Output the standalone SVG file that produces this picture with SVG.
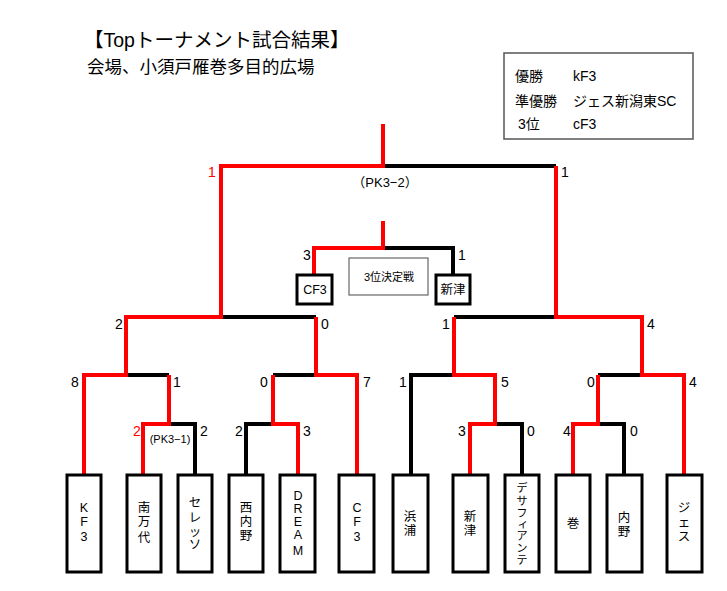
<svg xmlns="http://www.w3.org/2000/svg" width="727" height="591" viewBox="0 0 727 591">
<style>
text{font-family:"Liberation Sans","Noto Sans CJK JP",sans-serif;fill:#000}
.title{font-size:19.5px}
.sub{font-size:17.5px}
.leg{font-size:14px}
.sc{font-size:14px;text-anchor:middle}
.red{fill:#ff0000}
.sm{font-size:11px;text-anchor:middle}
.pk{font-size:13px;text-anchor:middle}
.tm{font-size:12.5px;text-anchor:middle}
.tk{font-size:11px;text-anchor:middle}
.box{fill:#fff;stroke:#000;stroke-width:3}
.lr{fill:none;stroke:#ff0000;stroke-width:4;stroke-linejoin:miter}
.lb{fill:none;stroke:#000;stroke-width:4;stroke-linejoin:miter}
</style>
<rect width="727" height="591" fill="#fff"/>
<g id="header">
<text class="title" x="84" y="47">【Topトーナメント試合結果】</text>
<text class="sub" x="87" y="73">会場、小須戸雁巻多目的広場</text>
</g>
<g id="legend">
<rect x="504" y="53" width="189" height="86" fill="#fff" stroke="#555" stroke-width="1.5"/>
<text class="leg" x="515" y="81">優勝</text>
<text class="leg" x="573" y="81">kF3</text>
<text class="leg" x="515" y="106">準優勝</text>
<text class="leg" x="573" y="106">ジェス新潟東SC</text>
<text class="leg" x="518" y="129">3位</text>
<text class="leg" x="573" y="129">cF3</text>
</g>
<g id="connectors">
<path class="lb" d="M195,475 V424 H169"/>
<path class="lb" d="M246,475 V424 H273"/>
<path class="lb" d="M169,375 H126"/>
<path class="lb" d="M273,375 H316"/>
<path class="lb" d="M316,317 H221"/>
<path class="lb" d="M383,166 H556"/>
<path class="lb" d="M411,475 V375 H454"/>
<path class="lb" d="M522,475 V424 H495"/>
<path class="lb" d="M624,475 V424 H598"/>
<path class="lb" d="M598,375 H642"/>
<path class="lb" d="M454,317 H556"/>
<path class="lb" d="M383,248 H453 V275"/>
<path class="lr" d="M84,475 V375 H126 V317 H221 V166 H383 V124"/>
<path class="lr" d="M143,475 V424 H169 V375"/>
<path class="lr" d="M298,475 V424 H273 V375"/>
<path class="lr" d="M357,475 V375 H316 V317"/>
<path class="lr" d="M470,475 V424 H495 V375 H454 V317"/>
<path class="lr" d="M573,475 V424 H598 V375"/>
<path class="lr" d="M684,475 V375 H642 V317 H556 V166"/>
<path class="lr" d="M314,275 V248 H383 V221"/>
</g>
<g id="scores">
<text class="sc red" x="212" y="177">1</text>
<text class="sc" x="565" y="177">1</text>
<text class="pk" x="385" y="187">（PK3−2）</text>
<text class="sc" x="307" y="260">3</text>
<text class="sc" x="462" y="260">1</text>
<text class="sc" x="119" y="329">2</text>
<text class="sc" x="325" y="329">0</text>
<text class="sc" x="446" y="329">1</text>
<text class="sc" x="651" y="329">4</text>
<text class="sc" x="75" y="387">8</text>
<text class="sc" x="177" y="387">1</text>
<text class="sc" x="264" y="387">0</text>
<text class="sc" x="367" y="387">7</text>
<text class="sc" x="403" y="387">1</text>
<text class="sc" x="505" y="387">5</text>
<text class="sc" x="591" y="387">0</text>
<text class="sc" x="693" y="387">4</text>
<text class="sc red" x="137" y="436">2</text>
<text class="sc" x="204" y="436">2</text>
<text class="sm" x="170" y="443">(PK3−1)</text>
<text class="sc" x="239" y="436">2</text>
<text class="sc" x="307" y="436">3</text>
<text class="sc" x="462" y="436">3</text>
<text class="sc" x="531" y="436">0</text>
<text class="sc" x="567" y="436">4</text>
<text class="sc" x="634" y="436">0</text>
</g>
<g id="third-place">
<rect x="349" y="258" width="79" height="37" fill="#fff" stroke="#666" stroke-width="1.2"/>
<text class="sm" x="389" y="281">3位決定戦</text>
</g>
<g id="node-cf3-third">
<rect class="box" x="297" y="275" width="35" height="29"/>
<text class="tm" x="315" y="294">CF3</text>
</g>
<g id="node-niitsu-third">
<rect class="box" x="436" y="275" width="34" height="29"/>
<text class="tm" x="453" y="294">新津</text>
</g>
<g id="team-kf3">
<rect class="box" x="67" y="475" width="34" height="97"/>
<text class="tm"><tspan x="84" y="512">K</tspan><tspan x="84" y="526">F</tspan><tspan x="84" y="541">3</tspan></text>
</g>
<g id="team-minamibandai">
<rect class="box" x="127" y="475" width="34" height="97"/>
<text class="tm"><tspan x="144" y="512">南</tspan><tspan x="144" y="526">万</tspan><tspan x="144" y="542">代</tspan></text>
</g>
<g id="team-cerezo">
<rect class="box" x="178" y="475" width="34" height="97"/>
<text class="tm"><tspan x="195" y="507">セ</tspan><tspan x="195" y="522">レ</tspan><tspan x="195" y="536">ッ</tspan><tspan x="195" y="549">ソ</tspan></text>
</g>
<g id="team-nishiuchino">
<rect class="box" x="229" y="475" width="34" height="97"/>
<text class="tm"><tspan x="246" y="512">西</tspan><tspan x="246" y="526">内</tspan><tspan x="246" y="540">野</tspan></text>
</g>
<g id="team-dream">
<rect class="box" x="280" y="475" width="35" height="97"/>
<text class="tm"><tspan x="298" y="500">D</tspan><tspan x="298" y="513">R</tspan><tspan x="298" y="526">E</tspan><tspan x="298" y="539">A</tspan><tspan x="298" y="555">M</tspan></text>
</g>
<g id="team-cf3">
<rect class="box" x="339" y="475" width="35" height="97"/>
<text class="tm"><tspan x="357" y="512">C</tspan><tspan x="357" y="526">F</tspan><tspan x="357" y="541">3</tspan></text>
</g>
<g id="team-hamaura">
<rect class="box" x="393" y="475" width="35" height="97"/>
<text class="tm"><tspan x="410" y="521">浜</tspan><tspan x="410" y="535">浦</tspan></text>
</g>
<g id="team-niitsu">
<rect class="box" x="453" y="475" width="35" height="97"/>
<text class="tm"><tspan x="470" y="521">新</tspan><tspan x="470" y="535">津</tspan></text>
</g>
<g id="team-desafiante">
<rect class="box" x="505" y="475" width="34" height="97"/>
<text class="tk"><tspan x="522" y="492">デ</tspan><tspan x="522" y="505">サ</tspan><tspan x="522" y="517">フ</tspan><tspan x="523" y="528">ィ</tspan><tspan x="522" y="540">ア</tspan><tspan x="522" y="552">ン</tspan><tspan x="522" y="564">テ</tspan></text>
</g>
<g id="team-maki">
<rect class="box" x="556" y="475" width="34" height="97"/>
<text class="tm"><tspan x="573" y="528">巻</tspan></text>
</g>
<g id="team-uchino">
<rect class="box" x="607" y="475" width="35" height="97"/>
<text class="tm"><tspan x="624" y="522">内</tspan><tspan x="624" y="536">野</tspan></text>
</g>
<g id="team-jesu">
<rect class="box" x="667" y="475" width="35" height="97"/>
<text class="tm"><tspan x="684" y="512">ジ</tspan><tspan x="684" y="527">ェ</tspan><tspan x="684" y="541">ス</tspan></text>
</g>
</svg>
